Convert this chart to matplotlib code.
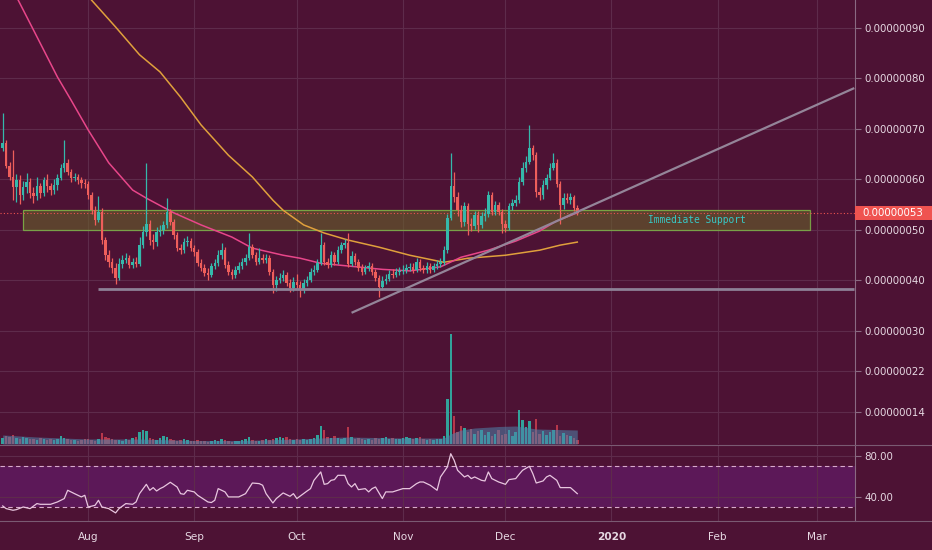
import numpy as np
import pandas as pd
import matplotlib
matplotlib.use('Agg')
import matplotlib.pyplot as plt
import matplotlib.dates as mdates
import matplotlib.transforms as mtransforms
from matplotlib.patches import Rectangle
from matplotlib.lines import Line2D

# ---------------- data (prices in units of 1e-8) ----------------
start_date = '2019-07-07'
first_open = 66.2
close = [
    67.2, 62.7, 60.5, 58.5, 59.9, 56.9, 58.5, 59.5, 57.3, 56.7,
    58.7, 57.3, 59.9, 58.7, 57.9, 58.9, 60.3, 62.3, 63.3, 61.5,
    60.3, 60.5, 59.9, 59.3, 59.1, 56.9, 54.0, 52.0, 53.6, 48.0,
    45.0, 43.7, 42.5, 40.5, 43.3, 44.1, 44.5, 43.1, 43.7, 43.3,
    47.0, 49.6, 51.2, 48.0, 47.6, 49.6, 50.0, 51.0, 53.6, 51.6,
    49.0, 46.4, 46.0, 47.6, 47.8, 46.4, 45.6, 43.5, 42.5, 41.5,
    41.1, 42.9, 43.5, 45.0, 46.0, 43.1, 41.7, 41.1, 42.1, 42.9,
    43.7, 44.5, 46.6, 45.0, 43.7, 44.5, 44.1, 44.5, 41.7, 39.1,
    40.1, 40.5, 41.1, 39.5, 38.5, 39.7, 39.1, 38.1, 39.5, 40.1,
    41.7, 42.1, 43.5, 47.0, 43.7, 43.1, 45.0, 43.7, 46.0, 47.0,
    47.4, 43.3, 44.8, 43.7, 42.5, 41.7, 42.5, 42.9, 41.7, 40.5,
    38.7, 39.9, 40.3, 41.3, 41.1, 41.7, 41.9, 42.1, 42.5, 42.7,
    42.1, 43.7, 42.5, 42.1, 42.9, 42.1, 42.9, 43.3, 43.7, 46.0,
    52.4, 58.7, 56.5, 54.0, 51.6, 54.7, 51.2, 50.8, 53.0, 51.0,
    52.8, 53.2, 56.9, 53.6, 54.9, 53.6, 51.2, 50.4, 54.7, 55.3,
    55.9, 59.5, 62.3, 63.5, 66.2, 64.8, 57.5, 56.9, 58.9, 60.3,
    62.3, 63.3, 59.1, 54.9, 56.3, 55.9, 56.5, 54.4, 53.4,
]
high = [
    73.2, 67.8, 63.4, 65.8, 61.0, 60.9, 59.6, 61.3, 60.3, 58.5,
    60.5, 59.4, 60.5, 61.0, 59.4, 60.0, 61.0, 63.0, 67.8, 64.0,
    62.0, 61.3, 61.0, 60.4, 60.1, 59.6, 57.5, 54.7, 56.8, 54.3,
    48.7, 46.0, 44.5, 43.4, 44.5, 45.0, 45.4, 45.0, 44.4, 44.6,
    48.6, 50.8, 63.2, 52.0, 49.3, 50.5, 51.0, 51.7, 56.3, 54.2,
    52.2, 49.6, 47.2, 48.4, 48.8, 48.5, 47.0, 46.2, 44.2, 43.2,
    42.4, 43.5, 44.3, 46.0, 47.4, 46.6, 43.8, 42.3, 42.9, 43.6,
    44.4, 45.3, 49.4, 47.2, 45.6, 46.5, 45.3, 45.2, 45.0, 42.3,
    40.9, 41.4, 42.0, 41.7, 40.2, 40.6, 41.2, 39.8, 40.2, 40.8,
    42.4, 43.0, 44.3, 49.4, 47.6, 44.5, 45.9, 45.6, 46.8, 47.7,
    48.2, 49.4, 45.8, 45.4, 44.3, 43.2, 43.1, 43.7, 43.5, 42.3,
    41.0, 40.8, 41.2, 42.1, 42.3, 42.4, 42.6, 43.0, 43.3, 43.5,
    43.4, 44.4, 44.2, 43.1, 43.6, 43.5, 43.5, 44.0, 44.5, 46.8,
    53.2, 65.2, 61.5, 57.5, 55.0, 55.6, 55.4, 52.3, 53.8, 53.7,
    53.6, 54.3, 57.8, 57.6, 55.8, 55.5, 54.2, 52.0, 55.3, 56.2,
    57.0, 60.4, 63.5, 64.6, 70.8, 66.9, 65.4, 58.5, 59.8, 61.1,
    63.2, 65.2, 64.0, 59.7, 57.4, 57.3, 57.3, 57.0, 54.9,
]
low = [
    65.6, 62.2, 59.8, 55.9, 55.5, 55.2, 56.0, 57.3, 56.3, 55.4,
    56.0, 56.4, 56.8, 57.5, 56.9, 57.2, 58.0, 59.8, 61.5, 60.9,
    59.5, 59.6, 59.1, 58.4, 58.3, 56.1, 53.2, 51.0, 51.5, 47.2,
    44.0, 42.6, 41.5, 39.3, 40.0, 42.5, 43.5, 42.4, 42.5, 42.6,
    42.8, 46.4, 48.8, 47.0, 46.2, 46.8, 48.9, 49.3, 50.4, 51.0,
    48.2, 45.8, 45.2, 45.5, 46.8, 45.8, 44.9, 42.8, 41.8, 40.8,
    40.0, 40.6, 42.2, 42.8, 44.2, 42.5, 41.0, 40.3, 40.5, 41.5,
    42.3, 43.0, 44.0, 44.4, 43.0, 43.2, 43.4, 43.5, 41.0, 37.6,
    37.9, 39.5, 39.9, 38.9, 37.8, 38.0, 38.3, 36.8, 37.6, 39.0,
    39.6, 41.1, 41.7, 43.0, 43.1, 42.4, 42.6, 43.0, 43.2, 45.5,
    46.4, 42.7, 42.8, 43.0, 41.8, 41.0, 41.2, 41.9, 41.1, 39.8,
    36.8, 38.1, 39.3, 39.8, 40.4, 40.6, 41.0, 41.3, 41.5, 41.8,
    41.5, 41.6, 41.9, 41.4, 41.5, 41.4, 41.6, 42.3, 42.7, 43.1,
    45.5, 52.0, 55.5, 52.8, 50.6, 50.8, 49.0, 49.8, 50.2, 49.6,
    50.4, 51.8, 52.6, 52.9, 53.0, 52.9, 49.5, 49.6, 50.0, 54.0,
    54.8, 55.3, 59.0, 61.5, 63.0, 63.8, 56.5, 55.9, 56.2, 58.2,
    59.8, 61.9, 58.5, 51.2, 54.2, 55.3, 55.2, 53.8, 52.9,
]
volume = [
    6, 8, 7, 9, 6, 5, 7, 6, 5, 5, 4, 6, 5, 4, 5, 4, 5, 8, 6, 5, 4, 4, 3, 4, 5,
    5, 4, 3, 5, 11, 7, 6, 5, 4, 4, 3, 5, 4, 6, 7, 12, 14, 13, 6, 5, 4, 6, 8, 7, 5, 4, 3, 4, 5, 4, 3,
    3, 4, 3, 3, 2, 3, 4, 3, 5, 4, 3, 2, 3, 3, 4, 5, 7, 4, 3, 3, 4, 5, 4, 5, 6, 7, 6, 7, 5, 4,
    5, 4, 5, 4, 5, 6, 9, 18, 14, 7, 6, 8, 6, 5, 6, 17, 7, 5, 6, 5, 4, 5, 4, 6, 5, 6, 7, 5, 6, 5, 5,
    6, 7, 6, 5, 6, 7, 5, 4, 5, 4, 5, 5, 8, 45, 110, 28, 12, 18, 16, 12, 15, 10, 13, 14, 9, 12, 8, 10, 14, 9,
    10, 14, 8, 12, 34, 24, 17, 23, 12, 25, 10, 13, 9, 12, 14, 19, 8, 11, 9, 8, 6, 4,
]
vol_ma_day = [0, 10, 25, 40, 56, 70, 86, 100, 117, 129, 131, 134, 138, 145, 150, 156, 162, 168]
vol_ma_val = [9, 7, 5, 5, 3.5, 3.5, 5, 7, 6, 6, 10, 14, 16, 17.5, 18, 15, 14.5, 14]

ma_pink_day = [0, 9, 16, 20, 25, 31, 38, 42, 50, 58, 67, 73, 82, 87, 93, 102, 111, 119,
               128, 134, 142, 150, 157, 162, 168]
ma_pink_val = [101.5, 89.6, 80.3, 75.7, 69.8, 63.3, 57.9, 56.3, 53.4, 51.0, 48.6, 46.4,
               45.0, 44.4, 43.4, 42.8, 42.2, 41.9, 42.7, 44.6, 46.0, 47.8, 49.8, 51.8, 53.4]
ma_orange_day = [17, 26, 33, 40, 46, 52, 58, 66, 73, 79, 82, 88, 94, 101, 110, 119, 129,
                 136, 147, 157, 163, 168]
ma_orange_val = [102.9, 95.5, 90.2, 84.7, 81.3, 76.3, 70.8, 64.8, 60.5, 55.9, 53.9, 51.0,
                 49.4, 48.0, 46.6, 45.0, 43.6, 44.4, 45.0, 46.0, 47.0, 47.6]

rsi_day = [0, 1, 3, 4, 6, 8, 10, 11, 14, 16, 18, 19, 21, 23, 24, 25, 27, 28, 29, 31, 33, 34,
           36, 38, 39, 40, 42, 43, 44, 45, 46, 47, 49, 51, 52, 53, 54, 56, 57, 60, 61, 62, 63,
           65, 66, 69, 71, 73, 75, 76, 77, 79, 80, 82, 84, 85, 86, 89, 90, 91, 93, 94, 95, 96,
           97, 98, 100, 101, 102, 103, 104, 106, 107, 108, 109, 111, 112, 114, 117, 119, 121,
           122, 123, 125, 127, 128, 130, 131, 132, 133, 135, 136, 137, 138, 140, 141, 142, 143,
           145, 147, 148, 150, 151, 152, 154, 155, 156, 158, 159, 160, 162, 163, 166, 168]
rsi_val = [31.0, 28.4, 26.8, 27.4, 30.0, 28.4, 33.3, 32.6, 32.6, 34.9, 38.2, 46.3, 43.0, 39.8,
           41.4, 30.0, 31.6, 36.5, 30.0, 28.4, 24.2, 28.4, 33.3, 32.6, 34.9, 43.0, 52.1, 46.3,
           48.9, 45.6, 47.9, 49.5, 54.1, 49.5, 43.0, 42.4, 46.3, 44.7, 41.4, 34.9, 34.3, 36.5,
           47.9, 44.7, 39.8, 39.8, 43.0, 53.4, 52.8, 51.2, 43.0, 33.9, 38.2, 43.7, 40.4, 43.0,
           38.2, 45.6, 47.9, 56.0, 64.2, 52.1, 52.8, 56.0, 56.7, 60.9, 60.9, 52.8, 49.5, 52.8,
           46.9, 47.9, 44.7, 47.9, 49.5, 38.2, 44.7, 44.7, 47.9, 47.9, 52.8, 54.4, 54.4, 51.2,
           46.3, 59.3, 69.0, 82.0, 75.5, 65.8, 59.3, 60.9, 57.7, 59.3, 56.0, 55.4, 64.2, 57.7,
           54.4, 52.1, 56.7, 57.7, 61.9, 65.8, 69.7, 62.5, 53.4, 55.4, 59.3, 60.9, 56.0, 48.9,
           48.9, 43.0]

trend_day = [102, 249]
trend_val = [33.6, 78.1]
support_day = [28, 249]
support_val = [38.3, 38.3]
zone_day = [6, 236]
zone_val = [49.9, 53.9]
zone_label = 'Immediate Support'
zone_label_day = 203

price_ticks = [14, 22, 30, 40, 50, 60, 70, 80, 90]
rsi_ticks = [40, 80]
rsi_bands = [30, 70]
month_dates = ['2019-08-01', '2019-09-01', '2019-10-01', '2019-11-01', '2019-12-01',
               '2020-01-01', '2020-02-01', '2020-03-01']
month_labels = ['Aug', 'Sep', 'Oct', 'Nov', 'Dec', '2020', 'Feb', 'Mar']

# ---------------- style ----------------
BG = '#4d1234'
GRID = '#5e2b4b'
AXIS = '#8a6a82'
TXT = '#e6d8e2'
UP = '#35b8ab'
DN = '#ee5e5b'
RED = '#ef5350'
W, H = 932, 550

def frac(x0, y0, x1, y1):
    return [x0 / W, 1 - y1 / H, (x1 - x0) / W, (y1 - y0) / H]

fig = plt.figure(figsize=(W / 100, H / 100), dpi=100, facecolor=BG)
ax = fig.add_axes(frac(0, 0, 855, 444))
axv = fig.add_axes(frac(0, 300, 855, 444), sharex=ax)
axr = fig.add_axes(frac(0, 445, 855, 521), sharex=ax)

dates = pd.date_range(start_date, periods=len(close), freq='D')
x = mdates.date2num(dates)
d0 = x[0]
c = np.array(close)
o = np.r_[first_open, c[:-1]]
hi = np.array(high)
lo = np.array(low)
up = c >= o
cols = np.where(up, UP, DN)

# ---------- price pane ----------
ax.set_facecolor(BG)
for s in ['top', 'left', 'bottom']:
    ax.spines[s].set_visible(False)
ax.spines['right'].set_color(AXIS)
ax.spines['right'].set_linewidth(0.8)
ax.set_ylim(7.62, 95.54)
ax.set_xlim(d0 - 0.79, d0 + 249.2)
month_x = mdates.date2num(pd.to_datetime(month_dates))
ax.set_xticks(month_x)
ax.tick_params(axis='x', length=0, labelbottom=False)
ax.yaxis.tick_right()
ax.set_yticks(price_ticks)
ax.set_yticklabels([f'{v * 1e-8:.8f}' for v in price_ticks])
ax.tick_params(axis='y', colors=AXIS, labelcolor=TXT, labelsize=7.4, length=4, width=0.8, pad=3)
ax.grid(True, color=GRID, lw=0.8)
ax.set_axisbelow(True)

# zone
zr = Rectangle((d0 + zone_day[0], zone_val[0]), zone_day[1] - zone_day[0], zone_val[1] - zone_val[0],
               facecolor='#67622a', alpha=0.6, edgecolor='none', zorder=1)
ax.add_patch(zr)
ze = Rectangle((d0 + zone_day[0], zone_val[0]), zone_day[1] - zone_day[0], zone_val[1] - zone_val[0],
               facecolor='none', edgecolor='#7fb548', lw=0.9, alpha=0.85, zorder=1.1)
ax.add_patch(ze)
ax.text(d0 + zone_label_day, (zone_val[0] + zone_val[1]) / 2, zone_label, color='#38c9c6',
        fontsize=6.9, family='DejaVu Sans Mono', ha='center', va='center', zorder=6)

# last price line
last_price = close[-1]
ax.axhline(last_price, color=RED, lw=0.8, ls=(0, (1, 2)), zorder=1.5)

# moving averages
ax.plot(d0 + np.array(ma_orange_day), ma_orange_val, color='#e0a03c', lw=1.1, zorder=2)
ax.plot(d0 + np.array(ma_pink_day), ma_pink_val, color='#e8468a', lw=1.1, zorder=2)

# candles
ax.vlines(x, lo, hi, colors=cols, lw=0.9, zorder=3)
ax.bar(x, np.maximum(np.abs(c - o), 0.2), bottom=np.minimum(o, c), width=0.72,
       color=cols, lw=0, zorder=3.5)

# drawings
ax.plot(d0 + np.array(trend_day), trend_val, color='#948599', lw=1.6, zorder=4, solid_capstyle='butt')
ax.plot(d0 + np.array(support_day), support_val, color='#8d8196', lw=2.0, zorder=4, solid_capstyle='butt')

# last price tag on axis
trans = mtransforms.blended_transform_factory(ax.transAxes, ax.transData)
ax.add_patch(Rectangle((1.0, last_price - 1.4), 77 / 855, 2.8, transform=trans,
                       facecolor=RED, edgecolor='none', clip_on=False, zorder=10))
ax.text(1.0 + 7 / 855, last_price, f'{last_price * 1e-8:.8f}', transform=trans,
        color='white', fontsize=7.4, ha='left', va='center', clip_on=False, zorder=11)

# ---------- volume overlay ----------
axv.patch.set_alpha(0)
axv.set_axis_off()
axv.set_ylim(0, 144)
vcols = np.where(up, '#2fb3a6', '#c33c4e')
axv.bar(x, volume, width=0.72, color=vcols, lw=0, alpha=0.9, zorder=2)
axv.fill_between(d0 + np.array(vol_ma_day), 0, vol_ma_val, color='#4f84ab', alpha=0.55, lw=0, zorder=3)

# ---------- RSI pane ----------
axr.set_facecolor(BG)
for s in ['top', 'left', 'bottom']:
    axr.spines[s].set_visible(False)
axr.spines['right'].set_color(AXIS)
axr.spines['right'].set_linewidth(0.8)
axr.set_ylim(16.3, 90.5)
axr.axhspan(rsi_bands[0], rsi_bands[1], color='#5c1858', lw=0, zorder=0.5)
for b in rsi_bands:
    axr.axhline(b, color='#d9aacb', lw=0.8, ls=(0, (4, 3)), zorder=1)
axr.plot(d0 + np.array(rsi_day), rsi_val, color='#e8c6df', lw=0.9, zorder=3)
axr.yaxis.tick_right()
axr.set_yticks(rsi_ticks)
axr.set_yticklabels([f'{v:.2f}' for v in rsi_ticks])
axr.tick_params(axis='y', colors=AXIS, labelcolor=TXT, labelsize=7.4, length=4, width=0.8, pad=3)
axr.set_xticks(month_x)
axr.set_xticklabels(month_labels)
axr.tick_params(axis='x', length=0, labelcolor=TXT, labelsize=7.6, pad=8)
axr.grid(True, color=GRID, lw=0.8)
axr.set_axisbelow(True)
for t in axr.get_xticklabels():
    if t.get_text() == '2020':
        t.set_fontweight('bold')

# pane separators
for yy in [444.5, 521]:
    fig.add_artist(Line2D([0, 1], [1 - yy / H, 1 - yy / H], color='#7a5a72', lw=0.8))

fig.savefig('out.png', dpi=100, facecolor=BG)
